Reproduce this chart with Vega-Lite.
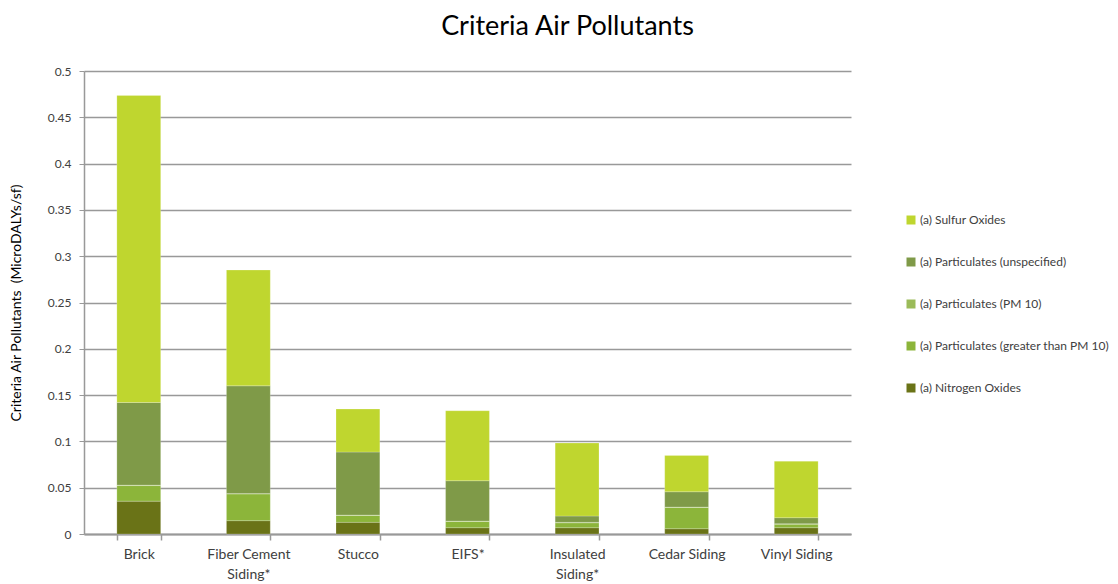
{
  "$schema": "https://vega.github.io/schema/vega-lite/v6.json",
  "width": 767,
  "height": 463,
  "autosize": {"type": "none"},
  "padding": {"left": 84, "top": 71, "right": 267, "bottom": 50},
  "background": "#ffffff",
  "title": {
    "text": "Criteria Air Pollutants",
    "font": "Lato",
    "fontSize": 27,
    "fontWeight": "normal",
    "color": "#000000",
    "anchor": "middle",
    "dx": 100,
    "offset": 24
  },
  "data": {
    "values": [
      {"material": "Brick", "pollutant": "(a) Nitrogen Oxides", "k": 1, "value": 0.0355},
      {"material": "Brick", "pollutant": "(a) Particulates (greater than PM 10)", "k": 2, "value": 0.0168},
      {"material": "Brick", "pollutant": "(a) Particulates (PM 10)", "k": 3, "value": 0.0005},
      {"material": "Brick", "pollutant": "(a) Particulates (unspecified)", "k": 4, "value": 0.0892},
      {"material": "Brick", "pollutant": "(a) Sulfur Oxides", "k": 5, "value": 0.3315},
      {"material": "Fiber Cement Siding*", "pollutant": "(a) Nitrogen Oxides", "k": 1, "value": 0.0144},
      {"material": "Fiber Cement Siding*", "pollutant": "(a) Particulates (greater than PM 10)", "k": 2, "value": 0.0288},
      {"material": "Fiber Cement Siding*", "pollutant": "(a) Particulates (PM 10)", "k": 3, "value": 0.0005},
      {"material": "Fiber Cement Siding*", "pollutant": "(a) Particulates (unspecified)", "k": 4, "value": 0.1163},
      {"material": "Fiber Cement Siding*", "pollutant": "(a) Sulfur Oxides", "k": 5, "value": 0.125},
      {"material": "Stucco", "pollutant": "(a) Nitrogen Oxides", "k": 1, "value": 0.0126},
      {"material": "Stucco", "pollutant": "(a) Particulates (greater than PM 10)", "k": 2, "value": 0.0074},
      {"material": "Stucco", "pollutant": "(a) Particulates (PM 10)", "k": 3, "value": 0.0005},
      {"material": "Stucco", "pollutant": "(a) Particulates (unspecified)", "k": 4, "value": 0.068},
      {"material": "Stucco", "pollutant": "(a) Sulfur Oxides", "k": 5, "value": 0.0464},
      {"material": "EIFS*", "pollutant": "(a) Nitrogen Oxides", "k": 1, "value": 0.0068},
      {"material": "EIFS*", "pollutant": "(a) Particulates (greater than PM 10)", "k": 2, "value": 0.0067},
      {"material": "EIFS*", "pollutant": "(a) Particulates (PM 10)", "k": 3, "value": 0.0005},
      {"material": "EIFS*", "pollutant": "(a) Particulates (unspecified)", "k": 4, "value": 0.0435},
      {"material": "EIFS*", "pollutant": "(a) Sulfur Oxides", "k": 5, "value": 0.0756},
      {"material": "Insulated Siding*", "pollutant": "(a) Nitrogen Oxides", "k": 1, "value": 0.0068},
      {"material": "Insulated Siding*", "pollutant": "(a) Particulates (greater than PM 10)", "k": 2, "value": 0.0053},
      {"material": "Insulated Siding*", "pollutant": "(a) Particulates (PM 10)", "k": 3, "value": 0.0005},
      {"material": "Insulated Siding*", "pollutant": "(a) Particulates (unspecified)", "k": 4, "value": 0.0068},
      {"material": "Insulated Siding*", "pollutant": "(a) Sulfur Oxides", "k": 5, "value": 0.0788},
      {"material": "Cedar Siding", "pollutant": "(a) Nitrogen Oxides", "k": 1, "value": 0.0057},
      {"material": "Cedar Siding", "pollutant": "(a) Particulates (greater than PM 10)", "k": 2, "value": 0.0229},
      {"material": "Cedar Siding", "pollutant": "(a) Particulates (PM 10)", "k": 3, "value": 0.0005},
      {"material": "Cedar Siding", "pollutant": "(a) Particulates (unspecified)", "k": 4, "value": 0.0165},
      {"material": "Cedar Siding", "pollutant": "(a) Sulfur Oxides", "k": 5, "value": 0.0392},
      {"material": "Vinyl Siding", "pollutant": "(a) Nitrogen Oxides", "k": 1, "value": 0.0068},
      {"material": "Vinyl Siding", "pollutant": "(a) Particulates (greater than PM 10)", "k": 2, "value": 0.0038},
      {"material": "Vinyl Siding", "pollutant": "(a) Particulates (PM 10)", "k": 3, "value": 0.0005},
      {"material": "Vinyl Siding", "pollutant": "(a) Particulates (unspecified)", "k": 4, "value": 0.0065},
      {"material": "Vinyl Siding", "pollutant": "(a) Sulfur Oxides", "k": 5, "value": 0.061}
    ]
  },
  "mark": {"type": "bar", "stroke": "#ffffff", "strokeWidth": 0.5, "strokeOpacity": 0.4},
  "encoding": {
    "x": {
      "field": "material",
      "type": "nominal",
      "sort": null,
      "scale": {"paddingInner": 0.6, "paddingOuter": 0.3},
      "axis": {
        "title": null,
        "labelAngle": 0,
        "labelFont": "Lato",
        "labelFontSize": 14,
        "labelColor": "#404040",
        "labelPadding": 7,
        "labelLineHeight": 20,
        "labelExpr": "datum.value == 'Fiber Cement Siding*' ? ['Fiber Cement', 'Siding*'] : datum.value == 'Insulated Siding*' ? ['Insulated', 'Siding*'] : datum.value",
        "tickBand": "extent",
        "tickSize": 6,
        "tickColor": "#999999",
        "tickWidth": 1.5,
        "domainColor": "#999999",
        "domainWidth": 2,
        "grid": false
      }
    },
    "y": {
      "field": "value",
      "type": "quantitative",
      "stack": "zero",
      "scale": {"domain": [0, 0.5], "nice": false},
      "axis": {
        "title": "Criteria Air Pollutants\u00a0\u00a0(MicroDALYs/sf)",
        "titleFont": "Lato",
        "titleFontSize": 14,
        "titleFontWeight": "normal",
        "titleColor": "#000000",
        "titlePadding": 24,
        "values": [0, 0.05, 0.1, 0.15, 0.2, 0.25, 0.3, 0.35, 0.4, 0.45, 0.5],
        "format": ".2~f",
        "labelFont": "Lato",
        "labelFontSize": 12,
        "labelColor": "#404040",
        "labelPadding": 8,
        "tickSize": 5,
        "tickColor": "#999999",
        "domainColor": "#999999",
        "domainWidth": 1.5,
        "grid": true,
        "gridColor": "#999999",
        "gridWidth": 1.5
      }
    },
    "color": {
      "field": "pollutant",
      "type": "nominal",
      "scale": {
        "domain": ["(a) Sulfur Oxides", "(a) Particulates (unspecified)", "(a) Particulates (PM 10)", "(a) Particulates (greater than PM 10)", "(a) Nitrogen Oxides"],
        "range": ["#BFD62F", "#7F9A48", "#9BBB59", "#8CB53A", "#6A7317"]
      },
      "legend": {
        "title": null,
        "orient": "none",
        "legendX": 821,
        "legendY": 143,
        "symbolType": "square",
        "symbolSize": 81,
        "symbolStrokeWidth": 0,
        "labelFont": "Lato",
        "labelFontSize": 12,
        "labelColor": "#404040",
        "labelOffset": 3,
        "labelLimit": 300,
        "rowPadding": 30
      }
    },
    "order": {"field": "k", "type": "quantitative", "sort": "ascending"}
  },
  "config": {
    "view": {"stroke": null}
  }
}
